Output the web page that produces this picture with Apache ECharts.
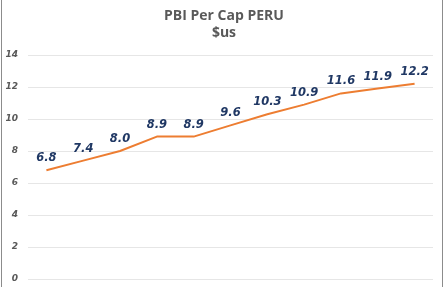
<!DOCTYPE html>
<html><head><meta charset="utf-8">
<script src="https://cdn.jsdelivr.net/npm/echarts@6/dist/echarts.min.js"></script>
<style>html,body{margin:0;padding:0;background:#fff}
#frame{position:absolute;left:1px;top:-2px;width:442px;height:292px;border:1px solid #8c8c8c;box-sizing:border-box}
#c{position:absolute;left:0;top:0;width:448px;height:287px}</style>
</head><body><div id="frame"></div><div id="c"></div>
<script>
const categories = ['1','2','3','4','5','6','7','8','9','10','11'];
const values = [6.8, 7.4, 8.0, 8.9, 8.9, 9.6, 10.3, 10.9, 11.6, 11.9, 12.2];
const yTicks = { min: 0, max: 14, interval: 2 };
</script>
<script>
const chart = echarts.init(document.getElementById('c'), null, {renderer:'canvas'});
chart.setOption({
  animation:false,
  title:{text:'PBI Per Cap PERU\n$us', left:'center', top:3,
    textStyle:{fontFamily:'Open Sans', fontSize:14, fontWeight:'bold', color:'#595959', lineHeight:17}},
  grid:{left:28, right:15, top:55, bottom:8, containLabel:false},
  xAxis:{type:'category', data:categories, boundaryGap:true,
    axisLine:{show:false}, axisTick:{show:false}, axisLabel:{show:false}},
  yAxis:{type:'value', min:yTicks.min, max:yTicks.max, interval:yTicks.interval,
    axisLine:{show:false}, axisTick:{show:false},
    splitLine:{lineStyle:{color:'#e6e6e6', width:1}},
    axisLabel:{fontFamily:'DejaVu Sans', fontSize:9, fontStyle:'italic', fontWeight:'bold', color:'#595959', margin:10, align:'right'}},
  series:[{type:'line', data:values, symbol:'circle', symbolSize:0.01, showSymbol:true,
    itemStyle:{color:'#ED7D31', opacity:0},
    lineStyle:{color:'#ED7D31', width:2},
    label:{show:true, position:'top', distance:6, formatter:p=>p.value.toFixed(1),
      fontFamily:'DejaVu Sans', fontSize:11.5, fontStyle:'italic', fontWeight:'bold', color:'#203864', opacity:1}}]
});
</script></body></html>
